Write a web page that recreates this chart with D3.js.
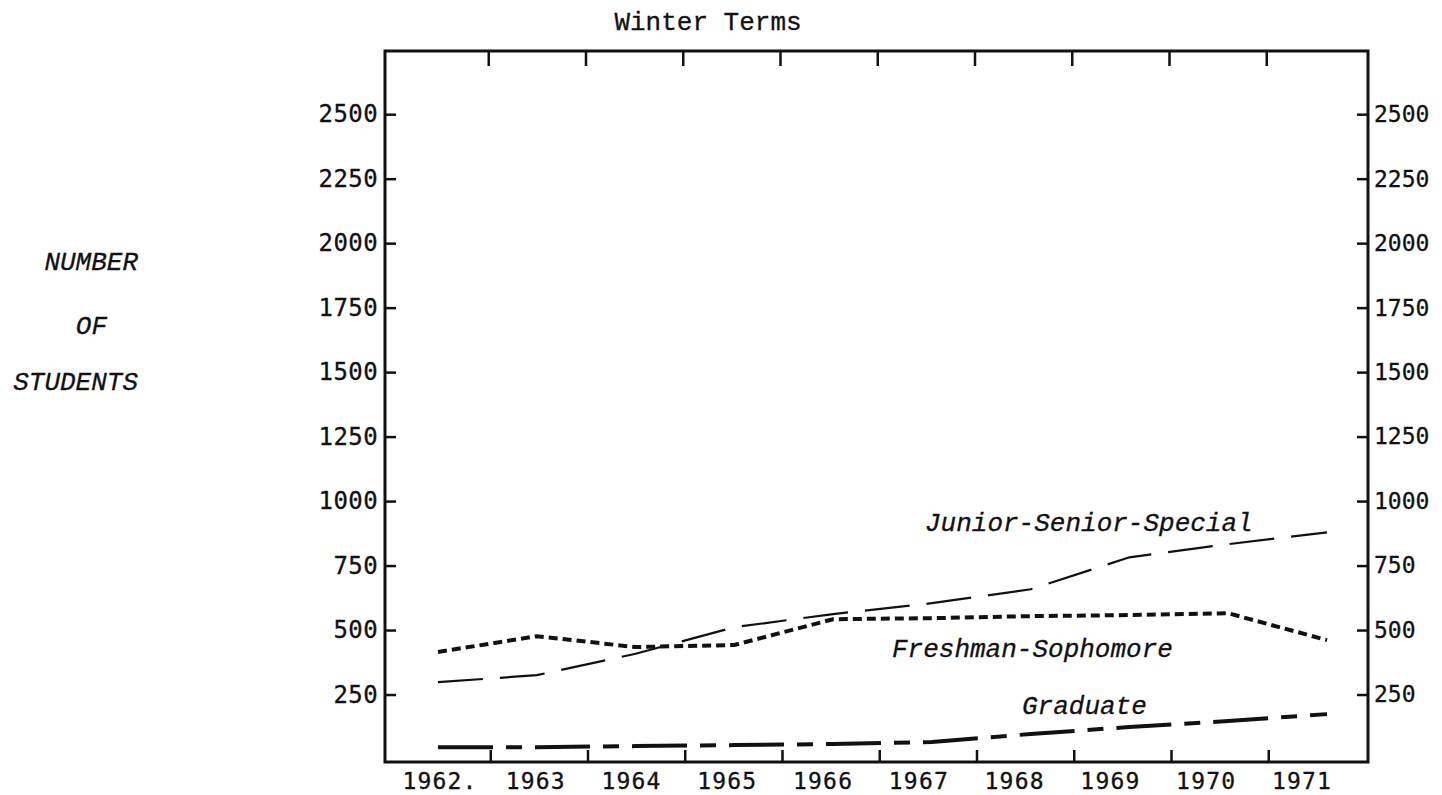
<!DOCTYPE html>
<html>
<head>
<meta charset="utf-8">
<script src="https://cdn.jsdelivr.net/npm/d3@7"></script>
<style>
  body { margin: 0; background: #fff; }
  svg { display: block; }
  .type { font-family: "Liberation Mono", "Courier New", monospace; fill: #111; stroke: #111; stroke-width: 0.3px; }
  .digits { font-family: "DejaVu Sans Mono", monospace; fill: #111; stroke: #111; stroke-width: 0.3px; }
</style>
</head>
<body>
<div id="chart"></div>
<script>
// enrolment, winter terms
const years = [1962, 1963, 1964, 1965, 1966, 1967, 1968, 1969, 1970, 1971]
const yearLabels = ["1962.", "1963", "1964", "1965", "1966", "1967", "1968", "1969", "1970", "1971"]
const freshmanSophomore = [415, 476, 434, 442, 542, 546, 554, 558, 565, 461]
const juniorSeniorSpecial = [298, 325, 408, 511, 562, 604, 658, 782, 833, 879]
const graduate = [46, 46, 50, 54, 58, 66, 97, 124, 147, 174]
const yTicks = [250, 500, 750, 1000, 1250, 1500, 1750, 2000, 2250, 2500]

const width = 1442
const height = 795
const frame = {left: 385, right: 1368, top: 51, bottom: 762}

const svg = d3.select('#chart')
  .append('svg')
  .attr('width', width)
  .attr('height', height)

const y = d3.scaleLinear()
  .domain([0, 2745])
  .range([759, frame.top])

// tick marks sit on the band edges, labels and lines on their own spacing
const xBand = d3.scaleBand()
  .domain(years)
  .range([393.5, 1366])
const xLabel = d3.scalePoint()
  .domain(years)
  .range([440, 1302])
const xLine = d3.scalePoint()
  .domain(years)
  .range([438, 1327])

// frame
svg.append('rect')
  .attr('x', frame.left)
  .attr('y', frame.top)
  .attr('width', frame.right - frame.left)
  .attr('height', frame.bottom - frame.top)
  .attr('fill', 'none')
  .attr('stroke', '#111')
  .attr('stroke-width', 3)

// left axis
const yLeft = d3.axisLeft(y)
  .tickValues(yTicks)
  .tickFormat(d3.format('d'))
  .tickSize(-11)
  .tickSizeOuter(0)
  .tickPadding(7)
const leftG = svg.append('g')
  .attr('transform', `translate(${frame.left},0)`)
  .call(yLeft)
leftG.select('.domain').remove()
leftG.selectAll('.tick line').attr('stroke', '#111').attr('stroke-width', 2.5)
leftG.selectAll('.tick text')
  .attr('class', 'digits')
  .style('font-size', '24px')
  .style('letter-spacing', '0.4px')

// right axis
const yRight = d3.axisRight(y)
  .tickValues(yTicks)
  .tickFormat(d3.format('d'))
  .tickSize(-11)
  .tickSizeOuter(0)
  .tickPadding(6)
const rightG = svg.append('g')
  .attr('transform', `translate(${frame.right},0)`)
  .call(yRight)
rightG.select('.domain').remove()
rightG.selectAll('.tick line').attr('stroke', '#111').attr('stroke-width', 2.5)
rightG.selectAll('.tick text')
  .attr('class', 'digits')
  .style('font-size', '23px')

// inward ticks on top and bottom edges
const edgeYears = years.slice(1)
svg.append('g')
  .selectAll('line')
  .data(edgeYears)
  .join('line')
  .attr('x1', d => xBand(d))
  .attr('x2', d => xBand(d))
  .attr('y1', frame.bottom)
  .attr('y2', frame.bottom - 12)
  .attr('stroke', '#111')
  .attr('stroke-width', 2.5)
svg.append('g')
  .selectAll('line')
  .data(edgeYears)
  .join('line')
  .attr('x1', d => xBand(d) - 2)
  .attr('x2', d => xBand(d) - 2)
  .attr('y1', frame.top)
  .attr('y2', frame.top + 15)
  .attr('stroke', '#111')
  .attr('stroke-width', 2.5)

// year labels
svg.append('g')
  .selectAll('text')
  .data(years)
  .join('text')
  .attr('class', 'digits')
  .attr('x', d => xLabel(d))
  .attr('y', 789)
  .attr('text-anchor', 'middle')
  .style('font-size', '23px')
  .style('letter-spacing', '1.2px')
  .text((d, i) => yearLabels[i])

// series
const line = d3.line()
  .x((d, i) => xLine(years[i]))
  .y(d => y(d))

const series = [
  {name: 'Junior-Senior-Special', values: juniorSeniorSpecial, width: 2.2, dash: '45,17'},
  {name: 'Freshman-Sophomore', values: freshmanSophomore, width: 4, dash: '9,5'},
  {name: 'Graduate', values: graduate, width: 4, dash: '55,13,16,13'}
]

svg.append('g')
  .selectAll('path')
  .data(series)
  .join('path')
  .attr('d', d => line(d.values))
  .attr('fill', 'none')
  .attr('stroke', '#111')
  .attr('stroke-width', d => d.width)
  .attr('stroke-dasharray', d => d.dash)

// line labels
const lineLabels = [
  {text: 'Junior-Senior-Special', x: 925, y: 531},
  {text: 'Freshman-Sophomore', x: 892, y: 657},
  {text: 'Graduate', x: 1022, y: 714}
]
svg.append('g')
  .selectAll('text')
  .data(lineLabels)
  .join('text')
  .attr('class', 'type')
  .attr('x', d => d.x)
  .attr('y', d => d.y)
  .style('font-size', '26px')
  .style('font-style', 'italic')
  .text(d => d.text)

// title
svg.append('text')
  .attr('class', 'type')
  .attr('x', 708)
  .attr('y', 30)
  .attr('text-anchor', 'middle')
  .style('font-size', '26px')
  .text('Winter Terms')

// y title
const yTitle = [
  {text: 'NUMBER', x: 138, y: 270},
  {text: 'OF', x: 107, y: 334},
  {text: 'STUDENTS', x: 138, y: 390}
]
svg.append('g')
  .selectAll('text')
  .data(yTitle)
  .join('text')
  .attr('class', 'type')
  .attr('x', d => d.x)
  .attr('y', d => d.y)
  .attr('text-anchor', 'end')
  .style('font-size', '26px')
  .style('font-style', 'italic')
  .text(d => d.text)
</script>
</body>
</html>
